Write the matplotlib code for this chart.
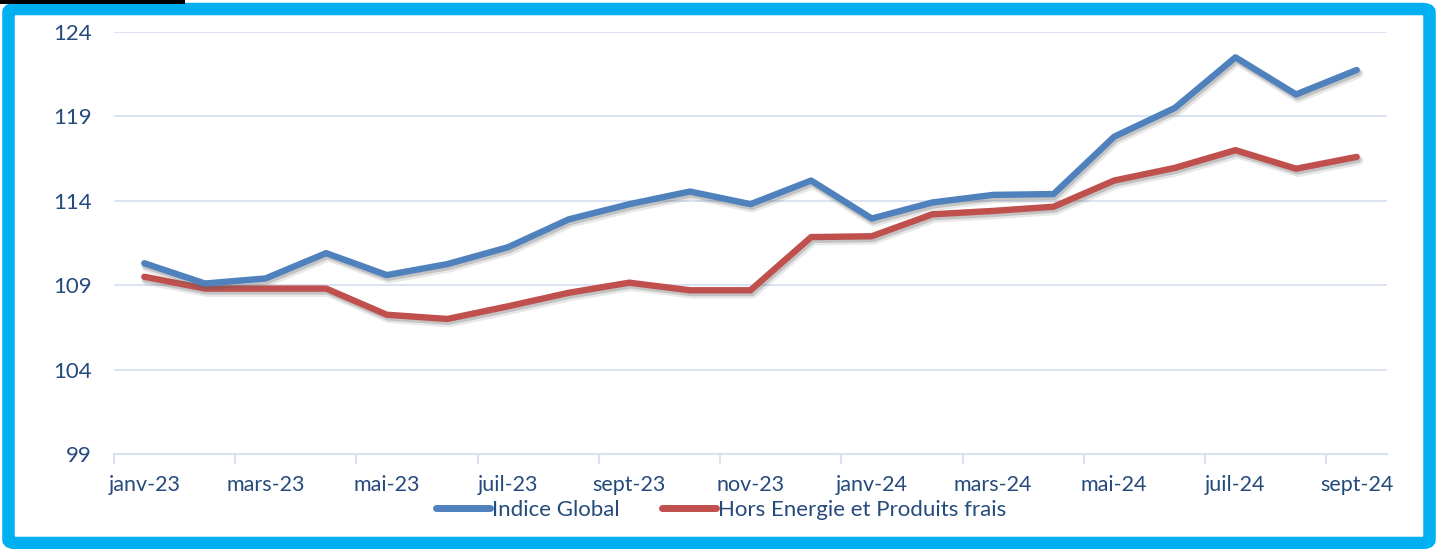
import matplotlib
matplotlib.use("Agg")
import matplotlib.pyplot as plt
import matplotlib.patches as patches
import matplotlib.patheffects as pe
import numpy as np

# Data
MONTHS = ['janv-23', 'févr-23', 'mars-23', 'avr-23', 'mai-23', 'juin-23', 'juil-23', 'août-23',
          'sept-23', 'oct-23', 'nov-23', 'déc-23', 'janv-24', 'févr-24', 'mars-24', 'avr-24',
          'mai-24', 'juin-24', 'juil-24', 'août-24', 'sept-24']
INDICE_GLOBAL = [110.3, 109.1, 109.4, 110.9, 109.6, 110.25, 111.25, 112.9, 113.8, 114.55, 113.8,
                 115.2, 112.95, 113.9, 114.35, 114.4, 117.8, 119.5, 122.5, 120.3, 121.75]
HORS_ENERGIE = [109.5, 108.8, 108.8, 108.8, 107.25, 107.0, 107.75, 108.55, 109.15, 108.7, 108.7,
                111.85, 111.9, 113.2, 113.4, 113.65, 115.2, 115.95, 117.0, 115.9, 116.6]
Y_TICKS = [99, 104, 109, 114, 119, 124]

BLUE = '#4F81BD'
RED = '#C0504D'
CYAN = '#00B0F0'
GRID = '#D9E2F3'
TEXT = '#254A7C'
FONT = ['Lato', 'DejaVu Sans']
FS = 16

plt.rcParams['font.family'] = FONT

W, H = 1438, 549
fig = plt.figure(figsize=(W / 100, H / 100), dpi=100)
fig.patch.set_facecolor('white')

# Cyan frame round the chart
frame = patches.FancyBboxPatch((8.5 / W, 6 / H), (W - 17) / W, (H - 15) / H,
                               boxstyle='round,pad=0,rounding_size=0.006',
                               transform=fig.transFigure, facecolor='none',
                               edgecolor=CYAN, linewidth=9, zorder=0)
fig.patches.append(frame)
fig.patches.append(patches.Rectangle((0, 1 - 4 / H), 185 / W, 4 / H, transform=fig.transFigure,
                                     facecolor='black', edgecolor='none', zorder=1))

ax = fig.add_axes([114 / W, 1 - 454 / H, (1387 - 114) / W, (454 - 32) / H])
ax.set_facecolor('none')
ax.set_zorder(2)

x = np.arange(len(MONTHS))
shadow = [pe.SimpleLineShadow(offset=(1.5, -2.5), shadow_color='#666666', alpha=0.15, linewidth=7),
          pe.SimpleLineShadow(offset=(1.0, -2.0), shadow_color='#555555', alpha=0.25),
          pe.Normal()]
ax.plot(x, INDICE_GLOBAL, color=BLUE, lw=4.6, solid_capstyle='round', zorder=5,
        path_effects=shadow, label='Indice Global')
ax.plot(x, HORS_ENERGIE, color=RED, lw=4.6, solid_capstyle='round', zorder=4,
        path_effects=shadow, label='Hors Energie et Produits frais')

ax.set_xlim(-0.5, len(MONTHS) - 0.5)
ax.set_ylim(99, 124)

# Grid and spines
for y in Y_TICKS[1:]:
    ax.axhline(y, color=GRID, lw=1.3, zorder=1)
for s in ['top', 'right', 'left']:
    ax.spines[s].set_visible(False)
ax.spines['bottom'].set_color(GRID)
ax.spines['bottom'].set_linewidth(1.5)

ax.set_yticks(Y_TICKS)
ax.set_yticklabels([str(v) for v in Y_TICKS], fontsize=FS, color=TEXT)
ax.tick_params(axis='y', length=0, pad=16)

ax.set_xticks(x[::2])
ax.set_xticklabels(MONTHS[::2], fontsize=15.5, color=TEXT)
ax.set_xticks(np.arange(-0.5, len(MONTHS) - 1, 2), minor=True)
ax.tick_params(axis='x', which='major', length=0, pad=15)
ax.tick_params(axis='x', which='minor', length=7, width=1.5, color=GRID)

leg = fig.legend(loc='center', bbox_to_anchor=(721 / W, 1 - 510 / H), ncol=2, frameon=False,
                 fontsize=FS, handlelength=2.45, handletextpad=0.08, columnspacing=1.9,
                 labelcolor=TEXT)
for line in leg.get_lines():
    line.set_linewidth(5)
    line.set_path_effects([])

fig.savefig('out.png', dpi=100)
